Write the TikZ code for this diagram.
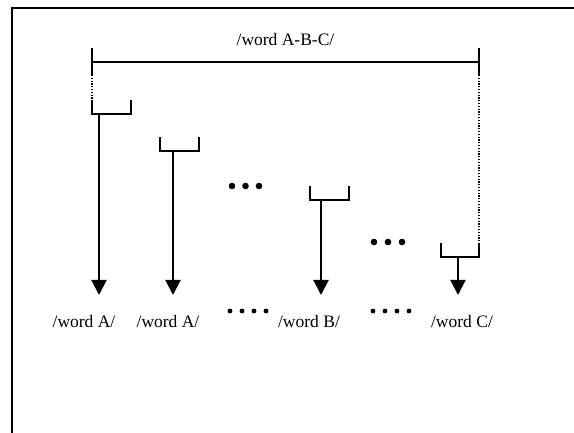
\documentclass[tikz,border=0pt]{standalone}
\usepackage{fontspec}
\setmainfont{Liberation Serif}
\usetikzlibrary{arrows.meta}
\begin{document}
\begin{tikzpicture}[x=1pt,y=-1pt,
  frameline/.style={line width=2.6pt},
  solidline/.style={line width=2pt},
  dotline/.style={line width=2pt,dash pattern=on 1.3pt off 1.5pt},
  bracketline/.style={line width=2pt},
  downarrow/.style={line width=2pt,-{Triangle[width=15pt,length=15pt]}},
  wordlabel/.style={font=\fontsize{17.5}{20}\selectfont,inner sep=0pt},
  bigdot/.style={fill=black,draw=none},
]
\useasboundingbox (0,0) rectangle (574,433);

% open frame: top and left edges
\draw[frameline] (12,433) -- (12,8) -- (574,8);

% span of the whole word
\coordinate (spanL) at (92,62);
\coordinate (spanR) at (479,62);
\draw[solidline] (92,48) -- (92,75);
\draw[solidline] (479,48) -- (479,75);
\draw[solidline] (spanL) -- (spanR);
\node[wordlabel] (whole) at (285.5,40) {/word A-B-C/};

% brackets: left x, right x, top y, bottom y, stem x
\foreach \n/\l/\r/\t/\b/\s in {1/92/131/100/114/99, 2/160/199/137/151/173,
                                3/310/349/186/200/321, 4/441/479/243/257/458}{
  \draw[bracketline] (\l,\t) -- (\l,\b) -- (\r,\b) -- (\r,\t);
  \coordinate (stem\n) at (\s,\b);
  \coordinate (tip\n) at (\s,295);
}

% dotted guides from the span ends down to the outer brackets
\draw[dotline] (92,75) -- (92,100);
\draw[dotline] (479,75) -- (479,243);

% arrows down to the word forms
\foreach \n in {1,2,3,4}{
  \draw[downarrow] (stem\n) -- (tip\n);
}

% word labels
\node[wordlabel] (wA1) at (84,322) {/word A/};
\node[wordlabel] (wA2) at (168,322) {/word A/};
\node[wordlabel] (wB) at (309,322) {/word B/};
\node[wordlabel] (wC) at (462,322) {/word C/};

% ellipses between the brackets
\foreach \x in {232,245.5,259}{ \fill[bigdot] (\x,186) circle (3.3); }
\foreach \x in {374,388,402}{ \fill[bigdot] (\x,242) circle (3.3); }

% ellipses between the labels
\foreach \x in {230,242,254,266}{ \fill[bigdot] (\x,311) circle (2.4); }
\foreach \x in {373,385,397,409}{ \fill[bigdot] (\x,311) circle (2.4); }
\end{tikzpicture}
\end{document}
